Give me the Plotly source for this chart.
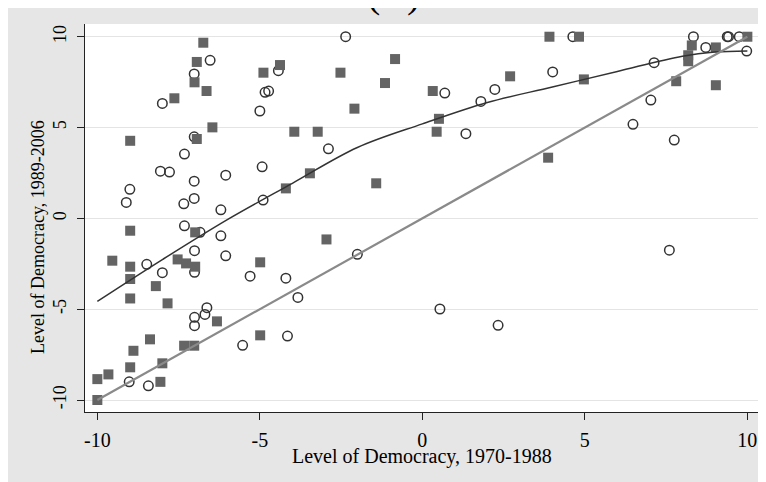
import plotly.graph_objects as go

# Open circles
circ_x = [-2.36, 4.63, 8.34, 9.38, 9.42, 9.75, 8.72, 9.98, 7.13, 4.01, 7.03, 6.48, 7.75, 7.60,
          0.69, 1.80, 2.23, 1.34, -2.89, -4.43, -4.84, -4.73, -5.00, -6.53, -7.02, -8.00,
          -7.02, -7.32, -8.06, -7.78, -7.02, -6.05, -4.93, -9.00, -9.11, -7.34, -7.02, -6.20,
          -4.90, -7.32, -6.84, -6.20, -7.01, -6.05, -8.48, -8.00, -7.01, -5.30, -6.63, -6.69,
          -7.01, -7.01, -5.53, -9.02, -8.43, -2.00, -4.20, -3.83, 0.54, 2.33, -4.15]
circ_y = [10.0, 10.0, 10.0, 10.0, 10.0, 10.0, 9.41, 9.21, 8.57, 8.06, 6.51, 5.18, 4.31, -1.75,
          6.90, 6.44, 7.10, 4.66, 3.83, 8.13, 6.94, 7.01, 5.91, 8.70, 7.95, 6.33,
          4.49, 3.54, 2.60, 2.55, 2.05, 2.38, 2.84, 1.60, 0.88, 0.80, 1.10, 0.47,
          1.01, -0.41, -0.77, -0.96, -1.78, -2.06, -2.53, -2.99, -2.97, -3.18, -4.92, -5.29,
          -5.45, -5.91, -6.99, -9.00, -9.22, -1.98, -3.29, -4.35, -4.99, -5.89, -6.48]

# Filled squares
sq_x = [-6.74, -6.94, -7.01, -6.64, -7.63, -4.89, -4.38, -6.46, -8.99, -6.94, -0.84, -2.52,
        -1.15, 0.32, 2.70, -2.09, -3.94, -3.22, -3.46, -4.20, -1.42, 0.51, 0.44, 3.91, 4.82,
        10.0, 8.29, 9.03, 8.18, 8.18, 4.97, 7.81, 9.03, 3.87, -2.95, -8.99, -6.99, -9.54,
        -8.99, -8.99, -7.53, -7.27, -6.99, -4.99, -8.20, -8.99, -7.84, -6.32, -8.38, -4.99,
        -7.33, -7.02, -8.89, -8.00, -8.99, -8.06, -10.0, -9.66, -10.0]
sq_y = [9.67, 8.61, 7.49, 7.01, 6.61, 8.02, 8.44, 5.01, 4.27, 4.37, 8.77, 8.02,
        7.45, 7.01, 7.82, 6.04, 4.77, 4.77, 2.48, 1.65, 1.93, 5.48, 4.77, 10.0, 10.0,
        10.0, 9.52, 9.41, 8.98, 8.65, 7.65, 7.55, 7.33, 3.34, -1.16, -0.68, -0.77, -2.33,
        -2.66, -3.34, -2.26, -2.48, -2.66, -2.42, -3.73, -4.41, -4.68, -5.67, -6.66, -6.44,
        -7.01, -7.01, -7.29, -7.98, -8.20, -9.00, -8.85, -8.59, -10.0]

# Lowess fit
fit_x = [-10, -8, -6, -4, -2, 0, 2, 4, 6, 8, 9, 10]
fit_y = [-4.57, -2.27, -0.07, 1.93, 3.9, 5.2, 6.38, 7.23, 8.09, 8.93, 9.16, 9.22]

# 45-degree reference line
diag = [-10, 10]

ticks = [-10, -5, 0, 5, 10]
tick_text = ["-10", "-5", "0", "5", "10"]

FONT = "Liberation Serif"

fig = go.Figure()
fig.add_trace(go.Scatter(x=circ_x, y=circ_y, mode="markers",
                         marker=dict(symbol="circle-open", size=9.5, color="#333333",
                                     line=dict(width=1.5, color="#333333")),
                         showlegend=False, hoverinfo="skip"))
fig.add_trace(go.Scatter(x=sq_x, y=sq_y, mode="markers",
                         marker=dict(symbol="square", size=10, color="#646464",
                                     line=dict(width=0)),
                         showlegend=False, hoverinfo="skip"))
fig.add_trace(go.Scatter(x=fit_x, y=fit_y, mode="lines",
                         line=dict(color="#333333", width=1.5, shape="spline", smoothing=1.0),
                         showlegend=False, hoverinfo="skip"))
fig.add_trace(go.Scatter(x=diag, y=diag, mode="lines",
                         line=dict(color="#8a8a8a", width=2.2),
                         showlegend=False, hoverinfo="skip"))

# page body margin offsets the figure by 8 px
OFF = 8
W, H = 766, 482
L, R, T, B = 77, 12, 16, 78
pw, ph = W - L - R, H - T - B

def px(xw):
    return (xw - OFF - L) / pw

def py(yw):
    return (H - B - (yw - OFF)) / ph

fig.update_layout(
    width=W, height=H,
    margin=dict(l=L, r=R, t=T, b=B, pad=0),
    paper_bgcolor="#e6e6e6",
    plot_bgcolor="white",
    font=dict(family=FONT, color="black", size=18),
    xaxis=dict(range=[-10.38, 10.45], tickvals=ticks, ticktext=tick_text,
               ticks="outside", ticklen=7, tickwidth=1.3, tickcolor="#222222",
               showline=True, linecolor="#222222", linewidth=1.3,
               showgrid=False, zeroline=False, ticklabelstandoff=3,
               tickfont=dict(family=FONT, size=20, color="black")),
    yaxis=dict(range=[-10.66, 10.70], tickvals=ticks, ticktext=tick_text,
               ticks="outside", ticklen=7, tickwidth=1.3, tickcolor="#222222",
               showline=True, linecolor="#222222", linewidth=1.3,
               showgrid=True, gridcolor="#e4e4e4", gridwidth=1.2, zeroline=False,
               tickangle=-90, ticklabelstandoff=4,
               tickfont=dict(family=FONT, size=18, color="black")),
    annotations=[
        dict(text="Level of Democracy, 1970-1988", xref="paper", yref="paper",
             x=px(422), y=py(456), xanchor="center", yanchor="middle", showarrow=False,
             font=dict(family=FONT, size=20, color="black")),
        dict(text="Level of Democracy, 1989-2006", xref="paper", yref="paper",
             x=px(38), y=py(237), xanchor="center", yanchor="middle", showarrow=False,
             textangle=-90, font=dict(family=FONT, size=18, color="black")),
        dict(text="(C)", xref="paper", yref="paper",
             x=px(393), y=py(-7), xanchor="center", yanchor="middle", showarrow=False,
             font=dict(family=FONT, size=40, color="black")),
    ],
)

fig.write_html("out.html")
